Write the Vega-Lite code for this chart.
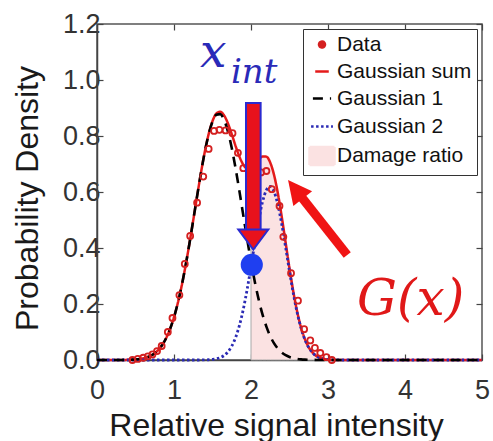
{
  "$schema": "https://vega.github.io/schema/vega-lite/v6.json",
  "width": 385,
  "height": 336,
  "autosize": {"type": "none"},
  "padding": {"left": 97, "top": 24, "right": 11, "bottom": 81},
  "background": "white",
  "config": {"view": {"stroke": "#555555", "strokeWidth": 1.5}, "font": "Liberation Sans"},
  "datasets": {
    "curves": [
      {"x": 0, "sum": 0, "g1": 0, "g2": 0},
      {"x": 0.30, "sum": 0.0002, "g1": 0.0002, "g2": 0},
      {"x": 0.35, "sum": 0.0003, "g1": 0.0003, "g2": 0},
      {"x": 0.40, "sum": 0.0006, "g1": 0.0006, "g2": 0},
      {"x": 0.45, "sum": 0.0012, "g1": 0.0012, "g2": 0},
      {"x": 0.50, "sum": 0.0020, "g1": 0.0020, "g2": 0},
      {"x": 0.55, "sum": 0.0035, "g1": 0.0035, "g2": 0},
      {"x": 0.60, "sum": 0.0060, "g1": 0.0060, "g2": 0},
      {"x": 0.65, "sum": 0.0098, "g1": 0.0098, "g2": 0},
      {"x": 0.70, "sum": 0.0157, "g1": 0.0157, "g2": 0},
      {"x": 0.75, "sum": 0.0244, "g1": 0.0244, "g2": 0},
      {"x": 0.80, "sum": 0.0371, "g1": 0.0371, "g2": 0},
      {"x": 0.85, "sum": 0.0550, "g1": 0.0550, "g2": 0},
      {"x": 0.90, "sum": 0.0794, "g1": 0.0794, "g2": 0},
      {"x": 0.95, "sum": 0.1116, "g1": 0.1116, "g2": 0},
      {"x": 1.00, "sum": 0.1529, "g1": 0.1529, "g2": 0},
      {"x": 1.05, "sum": 0.2041, "g1": 0.2041, "g2": 0},
      {"x": 1.10, "sum": 0.2654, "g1": 0.2654, "g2": 0},
      {"x": 1.15, "sum": 0.3363, "g1": 0.3363, "g2": 0},
      {"x": 1.20, "sum": 0.4152, "g1": 0.4152, "g2": 0},
      {"x": 1.25, "sum": 0.4994, "g1": 0.4994, "g2": 0},
      {"x": 1.30, "sum": 0.5852, "g1": 0.5852, "g2": 0},
      {"x": 1.35, "sum": 0.6684, "g1": 0.6683, "g2": 0.0001},
      {"x": 1.40, "sum": 0.7439, "g1": 0.7435, "g2": 0.0004},
      {"x": 1.45, "sum": 0.8068, "g1": 0.8059, "g2": 0.0009},
      {"x": 1.50, "sum": 0.8531, "g1": 0.8511, "g2": 0.0020},
      {"x": 1.55, "sum": 0.8801, "g1": 0.8759, "g2": 0.0042},
      {"x": 1.60, "sum": 0.8866, "g1": 0.8782, "g2": 0.0084},
      {"x": 1.65, "sum": 0.8738, "g1": 0.8578, "g2": 0.0160},
      {"x": 1.70, "sum": 0.8453, "g1": 0.8165, "g2": 0.0288},
      {"x": 1.75, "sum": 0.8064, "g1": 0.7571, "g2": 0.0493},
      {"x": 1.80, "sum": 0.7643, "g1": 0.6841, "g2": 0.0802},
      {"x": 1.85, "sum": 0.7259, "g1": 0.6022, "g2": 0.1237},
      {"x": 1.90, "sum": 0.6978, "g1": 0.5165, "g2": 0.1813},
      {"x": 1.95, "sum": 0.6839, "g1": 0.4316, "g2": 0.2523},
      {"x": 2.00, "sum": 0.6850, "g1": 0.3515, "g2": 0.3335},
      {"x": 2.05, "sum": 0.6975, "g1": 0.2789, "g2": 0.4186},
      {"x": 2.10, "sum": 0.7145, "g1": 0.2155, "g2": 0.4990},
      {"x": 2.15, "sum": 0.7271, "g1": 0.1623, "g2": 0.5648},
      {"x": 2.20, "sum": 0.7263, "g1": 0.1191, "g2": 0.6072},
      {"x": 2.25, "sum": 0.7049, "g1": 0.0851, "g2": 0.6198},
      {"x": 2.30, "sum": 0.6602, "g1": 0.0593, "g2": 0.6009},
      {"x": 2.35, "sum": 0.5935, "g1": 0.0402, "g2": 0.5533},
      {"x": 2.40, "sum": 0.5103, "g1": 0.0266, "g2": 0.4837},
      {"x": 2.45, "sum": 0.4188, "g1": 0.0172, "g2": 0.4016},
      {"x": 2.50, "sum": 0.3275, "g1": 0.0108, "g2": 0.3167},
      {"x": 2.55, "sum": 0.2438, "g1": 0.0066, "g2": 0.2372},
      {"x": 2.60, "sum": 0.1725, "g1": 0.0039, "g2": 0.1686},
      {"x": 2.65, "sum": 0.1162, "g1": 0.0023, "g2": 0.1139},
      {"x": 2.70, "sum": 0.0743, "g1": 0.0013, "g2": 0.0730},
      {"x": 2.75, "sum": 0.0452, "g1": 0.0007, "g2": 0.0445},
      {"x": 2.80, "sum": 0.0261, "g1": 0.0004, "g2": 0.0257},
      {"x": 2.85, "sum": 0.0143, "g1": 0.0002, "g2": 0.0141},
      {"x": 2.90, "sum": 0.0075, "g1": 0.0001, "g2": 0.0074},
      {"x": 2.95, "sum": 0.0037, "g1": 0, "g2": 0.0037},
      {"x": 3.00, "sum": 0.0017, "g1": 0, "g2": 0.0017},
      {"x": 3.05, "sum": 0.0008, "g1": 0, "g2": 0.0008},
      {"x": 3.10, "sum": 0.0003, "g1": 0, "g2": 0.0003},
      {"x": 3.20, "sum": 0, "g1": 0, "g2": 0},
      {"x": 5.00, "sum": 0, "g1": 0, "g2": 0}
    ],
    "area": [
      {"x": 2.00, "y": 0.6850}, {"x": 2.05, "y": 0.6975}, {"x": 2.10, "y": 0.7145},
      {"x": 2.15, "y": 0.7271}, {"x": 2.20, "y": 0.7263}, {"x": 2.25, "y": 0.7049},
      {"x": 2.30, "y": 0.6602}, {"x": 2.35, "y": 0.5935}, {"x": 2.40, "y": 0.5103},
      {"x": 2.45, "y": 0.4188}, {"x": 2.50, "y": 0.3275}, {"x": 2.55, "y": 0.2438},
      {"x": 2.60, "y": 0.1725}, {"x": 2.65, "y": 0.1162}, {"x": 2.70, "y": 0.0743},
      {"x": 2.75, "y": 0.0452}, {"x": 2.80, "y": 0.0261}, {"x": 2.85, "y": 0.0143},
      {"x": 2.90, "y": 0.0075}, {"x": 2.95, "y": 0.0037}, {"x": 3.00, "y": 0.0017},
      {"x": 3.05, "y": 0.0008}, {"x": 3.10, "y": 0.0003}, {"x": 3.20, "y": 0}
    ],
    "pts": [
      {"x": 0.46, "y": 0.000}, {"x": 0.53, "y": 0.004}, {"x": 0.60, "y": 0.008},
      {"x": 0.66, "y": 0.013}, {"x": 0.72, "y": 0.020}, {"x": 0.78, "y": 0.032},
      {"x": 0.84, "y": 0.050}, {"x": 0.92, "y": 0.100}, {"x": 0.98, "y": 0.150},
      {"x": 1.07, "y": 0.232}, {"x": 1.14, "y": 0.343}, {"x": 1.21, "y": 0.443},
      {"x": 1.30, "y": 0.562}, {"x": 1.38, "y": 0.655}, {"x": 1.45, "y": 0.754},
      {"x": 1.52, "y": 0.818}, {"x": 1.59, "y": 0.822}, {"x": 1.67, "y": 0.820},
      {"x": 1.76, "y": 0.810}, {"x": 1.83, "y": 0.740}, {"x": 1.90, "y": 0.685},
      {"x": 1.98, "y": 0.665}, {"x": 2.06, "y": 0.665}, {"x": 2.13, "y": 0.670},
      {"x": 2.20, "y": 0.675}, {"x": 2.27, "y": 0.610}, {"x": 2.37, "y": 0.550},
      {"x": 2.42, "y": 0.440}, {"x": 2.52, "y": 0.310}, {"x": 2.61, "y": 0.212},
      {"x": 2.69, "y": 0.110}, {"x": 2.77, "y": 0.070}, {"x": 2.83, "y": 0.043},
      {"x": 2.90, "y": 0.025}, {"x": 2.98, "y": 0.010}, {"x": 3.05, "y": 0.000}
    ]
  },
  "resolve": {"axis": {"x": "independent", "y": "independent"}},
  "layer": [
    {
      "data": {"name": "area"},
      "mark": {"type": "area", "interpolate": "monotone", "stroke": "#a8a8a8", "strokeWidth": 1, "opacity": 1, "fillOpacity": 1},
      "encoding": {
        "x": {"field": "x", "type": "quantitative",
          "scale": {"domain": [0, 5], "nice": false, "zero": false},
          "axis": {"orient": "bottom", "values": [0, 1, 2, 3, 4, 5], "format": "d", "grid": false,
            "tickSize": -6, "tickColor": "#444444", "tickWidth": 1.2, "domainColor": "#444444", "domainWidth": 1.5,
            "labelFontSize": 27, "labelFont": "Liberation Sans", "labelColor": "#333333", "labelPadding": 23, "labelFlush": false,
            "title": "Relative signal intensity", "titleFont": "Liberation Sans", "titleFontSize": 32, "titleFontWeight": "normal",
            "titleColor": "#1a1a1a", "titleX": 179, "titleY": 75, "titleBaseline": "alphabetic", "titleAlign": "center"}},
        "y": {"field": "y", "type": "quantitative",
          "scale": {"domain": [0, 1.2], "nice": false, "zero": true},
          "axis": {"orient": "left", "values": [0, 0.2, 0.4, 0.6, 0.8, 1.0, 1.2], "format": ".1f", "grid": false,
            "tickSize": -6, "tickColor": "#444444", "tickWidth": 1.2, "domainColor": "#444444", "domainWidth": 1.5,
            "labelFontSize": 27, "labelFont": "Liberation Sans", "labelColor": "#333333", "labelPadding": 3, "labelFlush": false,
            "title": "Probability Density", "titleFont": "Liberation Sans", "titleFontSize": 32, "titleFontWeight": "normal",
            "titleColor": "#1a1a1a", "titleX": -70, "titleY": 174, "titleAngle": -90, "titleBaseline": "middle", "titleAlign": "center"}},
        "color": {"datum": "Damage ratio", "type": "nominal",
          "scale": {"domain": ["Data", "Gaussian sum", "Gaussian 1", "Gaussian 2", "Damage ratio"],
                    "range": ["#d42020", "#e41a1a", "#000000", "#2a2ab4", "#fbe2e2"]},
          "legend": {"title": null, "orient": "top-right", "offset": 5, "padding": 5, "rowPadding": 5,
            "strokeColor": "#333333", "fillColor": "white", "labelFont": "Liberation Sans", "labelFontSize": 21,
            "labelColor": "#111111", "labelOffset": 1, "labelLimit": 300, "symbolStrokeWidth": 2.5, "symbolOpacity": 1}}
      }
    },
    {
      "data": {"name": "curves"},
      "mark": {"type": "line", "interpolate": "monotone", "strokeWidth": 2.5},
      "encoding": {
        "x": {"field": "x", "type": "quantitative",
          "axis": {"orient": "top", "values": [0, 1, 2, 3, 4, 5], "labels": false, "domain": false, "grid": false,
            "tickSize": -6, "tickColor": "#444444", "tickWidth": 1.2, "title": null}},
        "y": {"field": "sum", "type": "quantitative",
          "axis": {"orient": "right", "values": [0, 0.2, 0.4, 0.6, 0.8, 1.0, 1.2], "labels": false, "domain": false, "grid": false,
            "tickSize": -6, "tickColor": "#444444", "tickWidth": 1.2, "title": null}},
        "color": {"datum": "Gaussian sum", "type": "nominal"},
        "strokeDash": {"datum": "Gaussian sum", "type": "nominal",
          "scale": {"domain": ["Data", "Gaussian sum", "Gaussian 1", "Gaussian 2", "Damage ratio"],
                    "range": [[1, 0], [1, 0], [10, 7], [2.5, 2.5], [1, 0]]},
          "legend": {"title": null}}
      }
    },
    {
      "data": {"name": "curves"},
      "mark": {"type": "line", "interpolate": "monotone", "strokeWidth": 2.8},
      "encoding": {
        "x": {"field": "x", "type": "quantitative", "axis": null},
        "y": {"field": "g2", "type": "quantitative", "axis": null},
        "color": {"datum": "Gaussian 2", "type": "nominal"},
        "strokeDash": {"datum": "Gaussian 2", "type": "nominal"}
      }
    },
    {
      "data": {"name": "curves"},
      "mark": {"type": "line", "interpolate": "monotone", "strokeWidth": 2.6},
      "encoding": {
        "x": {"field": "x", "type": "quantitative", "axis": null},
        "y": {"field": "g1", "type": "quantitative", "axis": null},
        "color": {"datum": "Gaussian 1", "type": "nominal"},
        "strokeDash": {"datum": "Gaussian 1", "type": "nominal"}
      }
    },
    {
      "data": {"name": "pts"},
      "mark": {"type": "point", "filled": false, "strokeWidth": 1.8, "opacity": 1},
      "encoding": {
        "x": {"field": "x", "type": "quantitative", "axis": null},
        "y": {"field": "y", "type": "quantitative", "axis": null},
        "color": {"datum": "Data", "type": "nominal"},
        "shape": {"datum": "Data", "type": "nominal",
          "scale": {"domain": ["Data", "Gaussian sum", "Gaussian 1", "Gaussian 2", "Damage ratio"],
                    "range": ["circle", "stroke", "stroke", "stroke", "M-1,-0.72L1,-0.72L1,0.72L-1,0.72Z"]},
          "legend": {"title": null}},
        "size": {"datum": "Data", "type": "ordinal",
          "scale": {"domain": ["Data", "Gaussian sum", "Gaussian 1", "Gaussian 2", "Damage ratio"],
                    "range": [36, 625, 625, 625, 625]},
          "legend": {"title": null}}
      }
    },
    {
      "data": {"values": [{}]},
      "mark": {"type": "rect", "fill": "#e8121c", "stroke": "#2a2ad0", "strokeWidth": 2},
      "encoding": {
        "x": {"datum": 1.935, "type": "quantitative", "axis": null},
        "x2": {"datum": 2.125},
        "y": {"datum": 0.918, "type": "quantitative", "axis": null},
        "y2": {"datum": 0.455}
      }
    },
    {
      "data": {"values": [{}]},
      "mark": {"type": "point", "shape": "M-1,-0.67L1,-0.67L0,0.67Z", "size": 900, "filled": true, "fill": "#e8121c", "stroke": "#2a2ad0", "strokeWidth": 2, "opacity": 1},
      "encoding": {
        "x": {"datum": 2.03, "type": "quantitative", "axis": null},
        "y": {"datum": 0.43, "type": "quantitative", "axis": null}
      }
    },
    {
      "data": {"values": [{}]},
      "mark": {"type": "point", "shape": "circle", "size": 490, "filled": true, "fill": "#1f3ff0", "opacity": 1, "strokeWidth": 0},
      "encoding": {
        "x": {"datum": 2.01, "type": "quantitative", "axis": null},
        "y": {"datum": 0.34, "type": "quantitative", "axis": null}
      }
    },
    {
      "data": {"values": [{}]},
      "mark": {"type": "rule", "color": "#f01414", "strokeWidth": 9},
      "encoding": {
        "x": {"datum": 3.25, "type": "quantitative", "axis": null},
        "y": {"datum": 0.375, "type": "quantitative", "axis": null},
        "x2": {"datum": 2.59},
        "y2": {"datum": 0.605}
      }
    },
    {
      "data": {"values": [{}]},
      "mark": {"type": "point", "shape": "M0,-1L0.9,0.8L-0.9,0.8Z", "size": 700, "angle": -38, "filled": true, "fill": "#f01414", "opacity": 1, "strokeWidth": 0},
      "encoding": {
        "x": {"datum": 2.587, "type": "quantitative", "axis": null},
        "y": {"datum": 0.606, "type": "quantitative", "axis": null}
      }
    },
    {
      "data": {"values": [{}]},
      "mark": {"type": "text", "text": "x", "font": "DejaVu Serif", "fontStyle": "italic", "fontSize": 47, "fill": "#2a2ab8", "align": "left", "baseline": "alphabetic"},
      "encoding": {
        "x": {"datum": 1.338, "type": "quantitative", "axis": null},
        "y": {"datum": 1.046, "type": "quantitative", "axis": null}
      }
    },
    {
      "data": {"values": [{}]},
      "mark": {"type": "text", "text": "int", "font": "DejaVu Serif", "fontStyle": "italic", "fontSize": 34, "fill": "#2a2ab8", "align": "left", "baseline": "alphabetic"},
      "encoding": {
        "x": {"datum": 1.74, "type": "quantitative", "axis": null},
        "y": {"datum": 0.989, "type": "quantitative", "axis": null}
      }
    },
    {
      "data": {"values": [{}]},
      "mark": {"type": "text", "text": "G(x)", "font": "DejaVu Serif", "fontStyle": "italic", "fontSize": 50, "fill": "#e01818", "align": "left", "baseline": "alphabetic"},
      "encoding": {
        "x": {"datum": 3.377, "type": "quantitative", "axis": null},
        "y": {"datum": 0.161, "type": "quantitative", "axis": null}
      }
    }
  ]
}
